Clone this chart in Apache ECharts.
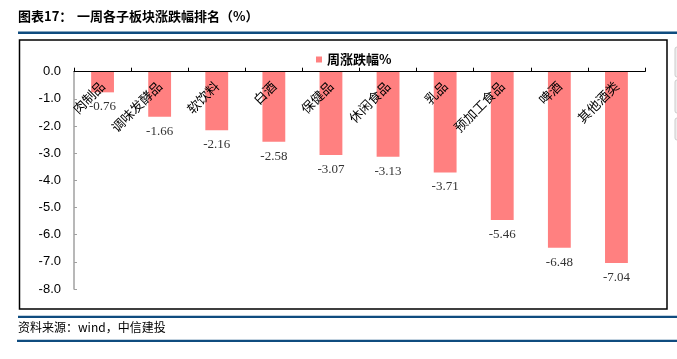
<!DOCTYPE html>
<html>
<head>
<meta charset="utf-8">
<script src="https://cdn.jsdelivr.net/npm/echarts@6/dist/echarts.min.js"></script>
<style>
html,body{margin:0;padding:0;background:#fff;}
#c{width:677px;height:359px;}
</style>
</head>
<body>
<div id="c"></div>
<script>
const categories = ['肉制品','调味发酵品','软饮料','白酒','保健品','休闲食品','乳品','预加工食品','啤酒','其他酒类'];
const weeklyChange = [-0.76,-1.66,-2.16,-2.58,-3.07,-3.13,-3.71,-5.46,-6.48,-7.04];
const seriesName = '周涨跌幅%';
const titleLead = '图表17：';
const titleMain = '一周各子板块涨跌幅排名（%）';
const sourceText = '资料来源：wind，中信建投';

const chart = echarts.init(document.getElementById('c'), null, {renderer:'canvas'});
const blue = '#0f4c7f';
chart.setOption({
  animation:false,
  backgroundColor:'#fff',
  grid:{left:74, right:32, top:71.7, bottom:70, containLabel:false},
  legend:{
    data:[seriesName], left:311, top:48, itemWidth:6, itemHeight:6, itemGap:4,
    icon:'rect',
    textStyle:{fontFamily:'Noto Sans CJK SC', fontWeight:'bold', fontSize:13, color:'#000'}
  },
  xAxis:{
    type:'category', data:categories, position:'top', z:5,
    axisLine:{onZero:false, lineStyle:{color:'#000', width:1}},
    axisTick:{show:true, inside:false, length:4, alignWithLabel:false, lineStyle:{color:'#000'}},
    axisLabel:{inside:true, rotate:-45, margin:12, interval:0, fontFamily:'Noto Sans CJK SC', fontSize:13, color:'#000'},
    splitLine:{show:false}
  },
  yAxis:{
    type:'value', min:-8, max:0, interval:1,
    axisLine:{show:true, lineStyle:{color:'#a0a0a0', width:1.5}},
    axisTick:{show:true, inside:true, length:3, lineStyle:{color:'#a0a0a0'}},
    axisLabel:{margin:13, fontFamily:'Liberation Sans', fontSize:13, color:'#000', formatter:v=>v.toFixed(1)},
    splitLine:{show:false}
  },
  series:[{
    name:seriesName, type:'bar', data:weeklyChange, barWidth:'40%',
    itemStyle:{color:'#ff8080'},
    label:{show:true, position:'bottom', distance:8, fontFamily:'Liberation Serif', fontSize:13, color:'#333', formatter:p=>p.value.toFixed(2)}
  }],
  graphic:[
    {type:'text', left:18, top:10, style:{text:titleLead, font:'bold 13px "Noto Sans CJK SC"', fill:'#000'}},
    {type:'text', left:77, top:10, style:{text:titleMain, font:'bold 13px "Noto Sans CJK SC"', fill:'#000'}},
    {type:'rect', shape:{x:18, y:31.5, width:659, height:2.6}, style:{fill:blue}},
    {type:'rect', shape:{x:19.5, y:40, width:647.5, height:269}, style:{fill:'none', stroke:'#000', lineWidth:1.5}, z:-1},
    {type:'rect', shape:{x:675, y:47, width:4, height:30, r:2}, style:{fill:'#eee', stroke:'#ccc'}},
    {type:'rect', shape:{x:675, y:80, width:4, height:33, r:2}, style:{fill:'#eee', stroke:'#ccc'}},
    {type:'rect', shape:{x:675, y:118, width:4, height:22, r:2}, style:{fill:'#eee', stroke:'#ccc'}},
    {type:'rect', shape:{x:18, y:315.7, width:659, height:2.2}, style:{fill:blue}},
    {type:'text', left:18, top:321, style:{text:sourceText, font:'12px "Noto Sans CJK SC"', fill:'#000'}},
    {type:'rect', shape:{x:17, y:339.8, width:660, height:2.2}, style:{fill:blue}}
  ]
});
</script>
</body>
</html>
